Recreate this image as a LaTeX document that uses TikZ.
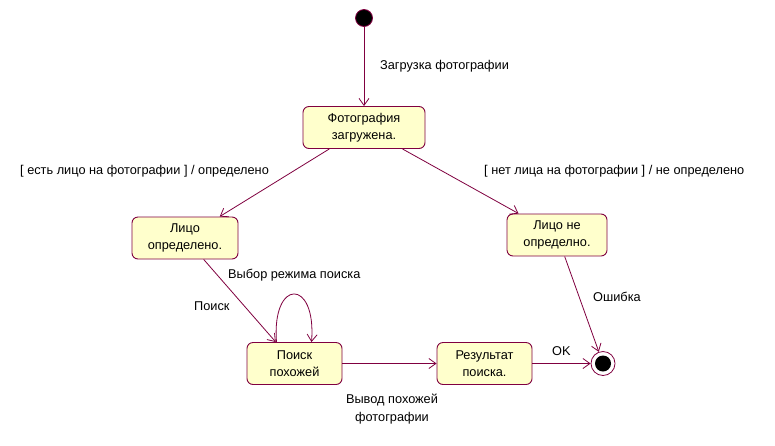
\documentclass[tikz,border=0pt]{standalone}
\usepackage{fontspec}
\setmainfont{Liberation Sans}
\usetikzlibrary{arrows.meta}
\definecolor{rose}{RGB}{128,0,64}
\definecolor{rosefill}{RGB}{255,255,204}
\begin{document}
\begin{tikzpicture}[x=1pt,y=-1pt,
  state/.style={draw=rose, fill=rosefill, rounded corners=6pt, line width=0.9pt,
    minimum width=#1, minimum height=42pt, align=center, inner sep=0pt,
    font=\fontsize{12.75}{16.5}\selectfont},
  lbl/.style={font=\fontsize{12.75}{18}\selectfont, inner sep=0pt, align=center},
  trans/.style={draw=rose, line width=0.8pt, -{Straight Barb[length=7pt,width=10pt]}}
]
\fill[white] (0,0) rectangle (775,445);
\useasboundingbox (0,0) rectangle (775,445);

\node[circle, fill=black, draw=rose, line width=0.8pt, minimum size=17pt, inner sep=0pt] (init) at (364,18) {};
\node[state=122pt] (b1) at (364,127.5) {Фотография\\загружена.};
\node[state=106pt] (b2) at (185,238) {Лицо\\определено.};
\node[state=100pt] (b3) at (557,235) {Лицо не\\определно.};
\node[state=95pt] (b4) at (294.5,363.5) {Поиск\\похожей};
\node[state=95pt] (b5) at (484.5,363.5) {Результат\\поиска.};
\node[circle, draw=rose, fill=white, line width=0.8pt, minimum size=24pt, inner sep=0pt] (fin) at (603,363.5) {};
\node[circle, fill=black, minimum size=16pt, inner sep=0pt] (fininner) at (fin) {};

\draw[trans] (init) -- (b1);
\draw[trans] (b1) -- (b2);
\draw[trans] (b1) -- (b3);
\draw[trans] (b2) -- (b4);
\draw[trans] ([xshift=-18pt]b4.north) .. controls +(-5,-64) and +(5,-64) .. ([xshift=17pt]b4.north);
\draw[trans] (b4) -- (b5);
\draw[trans] (b5) -- (fin);
\draw[trans] (b3) -- (fin);

\node[lbl, anchor=west] (l1) at (380,66) {Загрузка фотографии};
\node[lbl, anchor=west] (l2) at (20,171) {[ есть лицо на фотографии ] / определено};
\node[lbl, anchor=west] (l3) at (484,171) {[ нет лица на фотографии ] / не определено};
\node[lbl, anchor=west] (l4) at (228,275) {Выбор режима поиска};
\node[lbl, anchor=west] (l5) at (194,306) {Поиск};
\node[lbl, anchor=west] (l6) at (593,297) {Ошибка};
\node[lbl, anchor=west] (l7) at (552,351) {OK};
\node[lbl] (l8) at (392,409) {Вывод похожей\\фотографии};
\end{tikzpicture}
\end{document}
